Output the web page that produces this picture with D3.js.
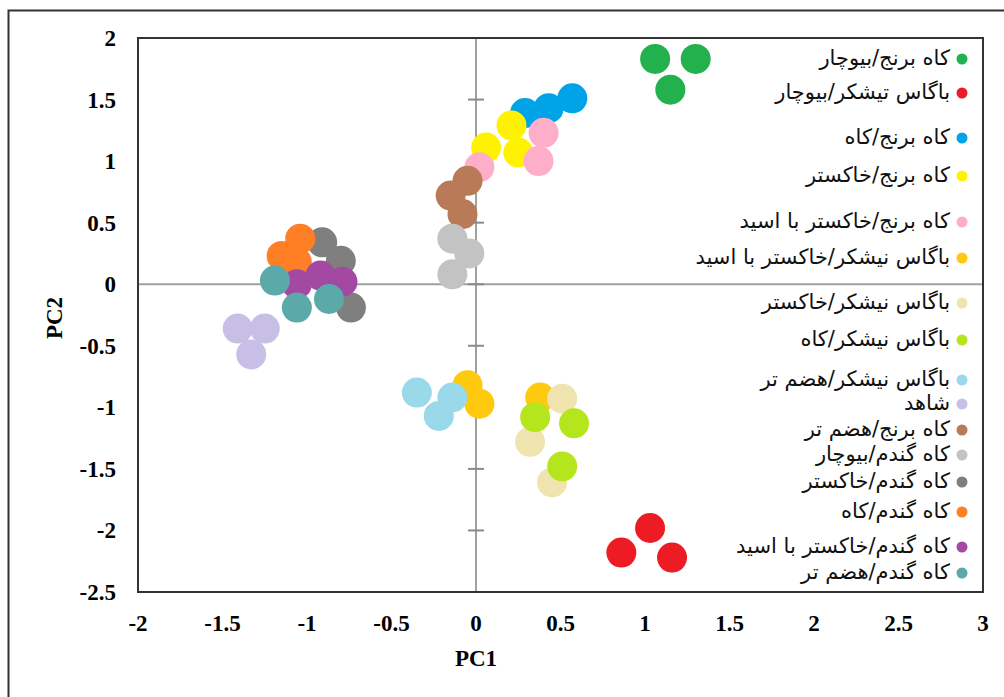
<!DOCTYPE html>
<html><head><meta charset="utf-8">
<script src="https://cdn.jsdelivr.net/npm/d3@7"></script>
<style>body{margin:0;background:#fff}</style>
</head><body>
<svg id="chart" width="1004" height="697"></svg>
<script>
// ---- data ----
const seriesNames = [
  "کاه برنج/بیوچار",
  "باگاس تیشکر/بیوچار",
  "کاه برنج/کاه",
  "کاه برنج/خاکستر",
  "کاه برنج/خاکستر با اسید",
  "باگاس نیشکر/خاکستر با اسید",
  "باگاس نیشکر/خاکستر",
  "باگاس نیشکر/کاه",
  "باگاس نیشکر/هضم تر",
  "شاهد",
  "کاه برنج/هضم تر",
  "کاه گندم/بیوچار",
  "کاه گندم/خاکستر",
  "کاه گندم/کاه",
  "کاه گندم/خاکستر با اسید",
  "کاه گندم/هضم تر"
];
const seriesColors = ["#22b14c","#ed1c24","#00a2e8","#fff200","#ffaec9","#ffc90e","#efe4b0","#b5e61d","#99d9ea","#c8bfe7","#b97a57","#c3c3c3","#7f7f7f","#ff7f27","#a349a4","#5ca9a9"];
const pc1Values = [
  [1.06, 1.30, 1.15],
  [1.03, 0.86, 1.16],
  [0.57, 0.43, 0.29],
  [0.21, 0.06, 0.25],
  [0.40, 0.37, 0.02],
  [-0.05, 0.02, 0.38],
  [0.51, 0.32, 0.45],
  [0.35, 0.58, 0.51],
  [-0.35, -0.14, -0.22],
  [-1.41, -1.25, -1.33],
  [-0.05, -0.15, -0.08],
  [-0.14, -0.04, -0.14],
  [-0.91, -0.80, -0.74],
  [-1.04, -1.15, -1.06],
  [-1.06, -0.79, -0.92],
  [-1.19, -1.06, -0.87]
];
const pc2Values = [
  [1.83, 1.83, 1.58],
  [-1.98, -2.18, -2.22],
  [1.51, 1.43, 1.39],
  [1.29, 1.11, 1.07],
  [1.23, 1.00, 0.95],
  [-0.82, -0.97, -0.92],
  [-0.93, -1.28, -1.61],
  [-1.08, -1.13, -1.48],
  [-0.88, -0.92, -1.07],
  [-0.36, -0.36, -0.57],
  [0.84, 0.72, 0.57],
  [0.37, 0.25, 0.08],
  [0.34, 0.19, -0.19],
  [0.37, 0.23, 0.18],
  [0.00, 0.02, 0.07],
  [0.03, -0.19, -0.12]
];
const xTicks = [-2,-1.5,-1,-0.5,0,0.5,1,1.5,2,2.5,3];
const yTicks = [-2.5,-2,-1.5,-1,-0.5,0,0.5,1,1.5,2];
const xTitle = "PC1", yTitle = "PC2";

// ---- layout ----
const L = 138, T = 38, R = 983, B = 592;
const legendY = [59,93,138,176,222,258,303,340,380,404,430,455,482,512,547,573];

const svg = d3.select("#chart");
const x = d3.scaleLinear().domain([-2,3]).range([L,R]);
const y = d3.scaleLinear().domain([-2.5,2]).range([B,T]);

// outer frame
svg.append("rect").attr("x",8.5).attr("y",10.5).attr("width",1010).attr("height",700)
  .attr("fill","none").attr("stroke","#333").attr("stroke-width",2);

// zero lines
svg.append("line").attr("x1",L).attr("x2",R).attr("y1",y(0)).attr("y2",y(0))
  .attr("stroke","#a0a0a0").attr("stroke-width",2);
svg.append("line").attr("x1",x(0)).attr("x2",x(0)).attr("y1",T).attr("y2",B)
  .attr("stroke","#a0a0a0").attr("stroke-width",2);
// y ticks on zero line
svg.append("g").selectAll("line").data(yTicks).join("line")
  .attr("x1",x(0)-8).attr("x2",x(0)+8).attr("y1",d=>y(d)).attr("y2",d=>y(d))
  .attr("stroke","#8a8a8a").attr("stroke-width",2);

// plot border
svg.append("rect").attr("x",L).attr("y",T).attr("width",R-L).attr("height",B-T)
  .attr("fill","none").attr("stroke","#333").attr("stroke-width",2);

// tick labels
const tickFont = "'Liberation Serif', 'Times New Roman', serif";
svg.append("g").selectAll("text").data(xTicks).join("text")
  .attr("x",d=>x(d)).attr("y",631).attr("text-anchor","middle")
  .attr("font-family",tickFont).attr("font-weight","bold").attr("font-size",23)
  .text(d=>String(d));
svg.append("g").selectAll("text").data(yTicks).join("text")
  .attr("x",116).attr("y",d=>y(d)+8).attr("text-anchor","end")
  .attr("font-family",tickFont).attr("font-weight","bold").attr("font-size",23)
  .text(d=>String(d));
svg.append("text").attr("x",476).attr("y",666).attr("text-anchor","middle")
  .attr("font-family",tickFont).attr("font-weight","bold").attr("font-size",23).text(xTitle);
svg.append("text").attr("transform","translate(62,318) rotate(-90)").attr("text-anchor","middle")
  .attr("font-family",tickFont).attr("font-weight","bold").attr("font-size",23).text(yTitle);

// points
const pts = [];
seriesNames.forEach((n,i)=>pc1Values[i].forEach((v,j)=>pts.push({s:i,x:v,y:pc2Values[i][j]})));
svg.append("g").selectAll("circle").data(pts).join("circle")
  .attr("cx",d=>x(d.x)).attr("cy",d=>y(d.y)).attr("r",15)
  .attr("fill",d=>seriesColors[d.s]);

// legend
const lg = svg.append("g");
seriesNames.forEach((n,i)=>{
  lg.append("circle").attr("cx",962).attr("cy",legendY[i]).attr("r",5.5).attr("fill",seriesColors[i]);
  lg.append("text").attr("x",950).attr("y",legendY[i]+6).attr("text-anchor","start")
    .attr("direction","rtl")
    .attr("font-family","'DejaVu Sans', sans-serif").attr("font-size",21).attr("fill","#111")
    .text(n);
});
</script>
</body></html>
